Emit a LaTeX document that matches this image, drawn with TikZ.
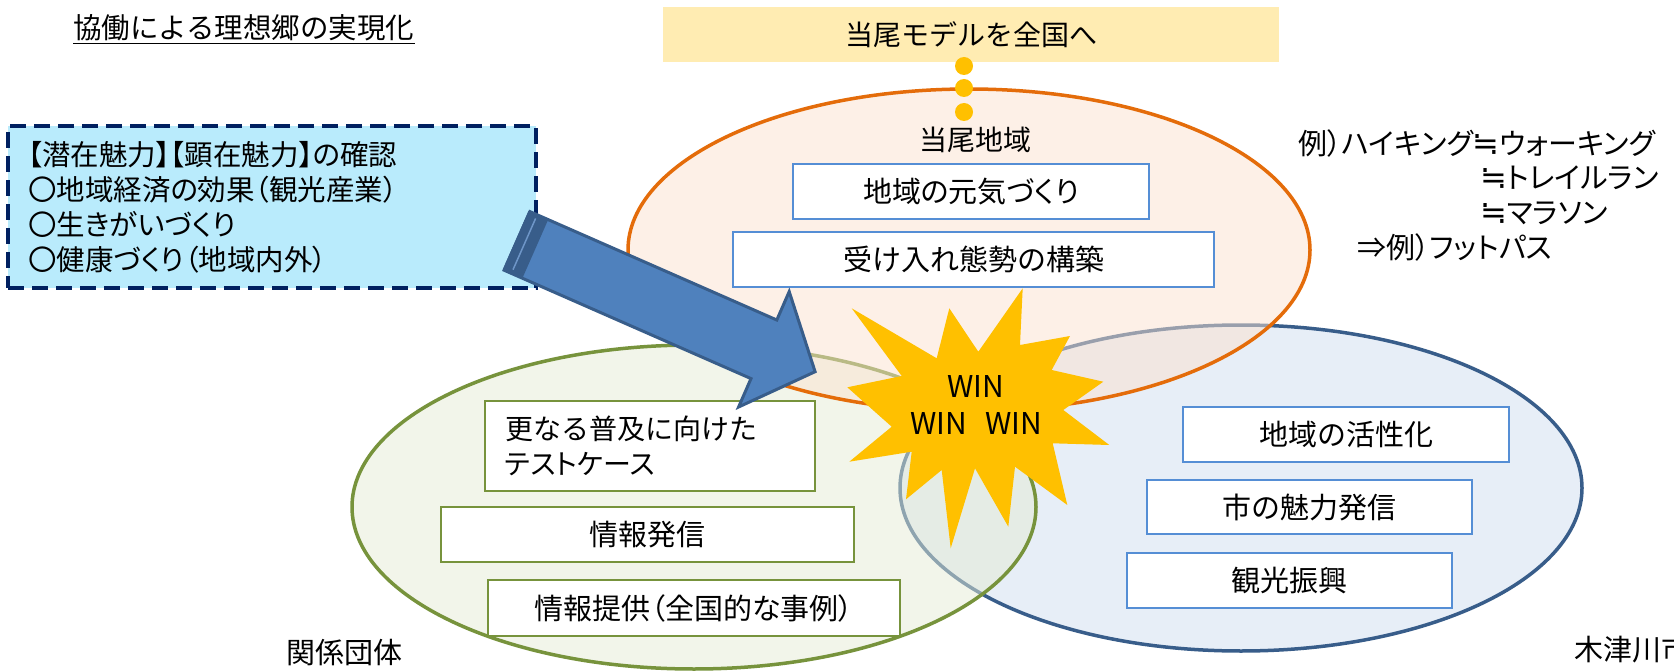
\documentclass[tikz,border=0pt]{standalone}
\usepackage{fontspec}
\setmainfont{Noto Sans CJK JP}
\newfontfamily\pfnt[RawFeature=+palt]{Noto Sans CJK JP}
\newfontfamily\symfnt{DejaVu Sans}
\newcommand{\apxsym}{{\symfnt\fontsize{32}{32}\selectfont ≒}}
\newcommand{\fs}[1]{\fontsize{#1}{#1}\selectfont}
\definecolor{orgline}{RGB}{228,108,10}
\definecolor{orgfill}{RGB}{251,225,207}
\definecolor{grnline}{RGB}{119,147,60}
\definecolor{grnfill}{RGB}{229,235,213}
\definecolor{bluline}{RGB}{56,93,138}
\definecolor{blufill}{RGB}{207,221,239}
\definecolor{boxblue}{RGB}{85,142,213}
\definecolor{topfill}{RGB}{255,236,178}
\definecolor{dashfill}{RGB}{185,235,252}
\definecolor{navyline}{RGB}{0,32,96}
\definecolor{gold}{RGB}{255,192,0}
\definecolor{arrfill}{RGB}{79,129,189}
\definecolor{arrline}{RGB}{56,93,138}
\definecolor{arrlight}{RGB}{110,150,200}
\begin{document}
\begin{tikzpicture}[x=1pt,y=-1pt,
  every node/.style={inner sep=0pt, font=\fs{28}},
  venn/.style={line width=3.5pt, fill opacity=0.5},
  bbox/.style={draw=boxblue, line width=2pt, fill=white, minimum height=55pt, font=\fs{29}},
  gbox/.style={draw=grnline, line width=2pt, fill=white, minimum height=55pt, font=\fs{29}},
  lbl/.style={font=\fs{29}},
  rtext/.style={anchor=west, font=\pfnt\fs{29}},
  dashbox/.style={draw=navyline, line width=4pt, dash pattern=on 16pt off 8pt, fill=dashfill},
]
\useasboundingbox (0,0) rectangle (1674,671);
\clip (0,0) rectangle (1674,671);

% Venn ellipses
\draw[venn, draw=bluline, fill=blufill] (1241,488) ellipse [x radius=341, y radius=163];
\draw[venn, draw=grnline, fill=grnfill] (694,507) ellipse [x radius=342, y radius=162];
\draw[venn, draw=orgline, fill=orgfill] (969,250) ellipse [x radius=341, y radius=161];

% top box and dots
\node[fill=topfill, minimum width=616pt, minimum height=55pt] (top) at (971,34.5) {当尾モデルを全国へ};
\fill[gold] (964,66) circle [radius=9];
\fill[gold] (964,88) circle [radius=9];
\fill[gold] (964,112) circle [radius=9];

% 当尾地域
\node[font=\fs{28}] (toono) at (975,140) {当尾地域};
\node[bbox, minimum width=356pt, font=\pfnt\fs{29}] (b1) at (971,191.5) {地域の元気づくり};
\node[bbox, minimum width=481pt] (b2) at (973.5,259.5) {受け入れ態勢の構築};

% 関係団体
\node[gbox, minimum height=90pt, text width=290pt, align=left, inner xsep=20pt,
      font=\fontsize{28}{35}\selectfont] (g1) at (650,446) {更なる普及に向けた\\{\pfnt テストケース}};
\node[gbox, minimum width=413pt] (g2) at (647.5,534.5) {情報発信};
\node[gbox, minimum width=412pt, minimum height=56pt, font=\pfnt\fs{29}] (g3) at (694,608) {情報提供（全国的な事例）};
\node[lbl] (kankei) at (344,653) {関係団体};

% 木津川市
\node[bbox, minimum width=326pt] (l1) at (1346,434.5) {地域の活性化};
\node[bbox, minimum width=325pt, minimum height=54pt] (l2) at (1309.5,507) {市の魅力発信};
\node[bbox, minimum width=325pt] (l3) at (1289.5,580.5) {観光振興};
\node[lbl, anchor=west] (kizu) at (1574,650) {木津川市};

% star
\fill[gold] (851.7,308.3) -- (936.7,358.3) -- (949.3,308.3) -- (978.3,351.7)
  -- (1022.7,288.3) -- (1020,345) -- (1070,336) -- (1051.7,370)
  -- (1103.3,381.7) -- (1063.3,410) -- (1109.3,445) -- (1052.7,443.3)
  -- (1067.3,505) -- (1015,466.7) -- (1008.3,526.7) -- (975,468.3)
  -- (950.7,548.3) -- (941.7,470) -- (906,499.3) -- (911.7,451.7)
  -- (849.3,461.7) -- (891.7,426.7) -- (847.3,387.3) -- (901.7,376) -- cycle;
\node[align=center, font=\fontsize{30}{37}\selectfont] (win) at (976,405) {WIN\\WIN\hspace{18pt}WIN};

% dashed box
\node[dashbox, minimum width=528pt, minimum height=162pt, text width=488pt, align=left,
      inner xsep=20pt, font=\pfnt\fontsize{28.5}{35}\selectfont] (pot) at (272,207)
  {【潜在魅力】【顕在魅力】の確認\\〇地域経済の効果（観光産業）\\〇生きがいづくり\\〇健康づくり（地域内外）};

% big arrow
\coordinate (a1) at (529.9,211.6);
\coordinate (a2) at (776.8,320.0);
\coordinate (a3) at (789.2,291.6);
\coordinate (tip) at (815.1,371.7);
\coordinate (a5) at (738.6,407.0);
\coordinate (a6) at (751.0,378.6);
\coordinate (a7) at (504.1,270.2);
\draw[fill=arrfill, draw=arrline, line width=3pt, line join=miter]
  (a1) -- (a2) -- (a3) -- (tip) -- (a5) -- (a6) -- (a7) -- cycle;
\fill[arrline] (a1) -- (548.2,219.6) -- (522.4,278.2) -- (a7) -- cycle;
\draw[arrlight, line width=1.5pt] (535.6,218.5) -- (513.0,269.7);
\draw[arrline, line width=3pt, line join=miter] (a1) -- (a7);

% title
\node[anchor=west, font=\fs{28.5}] (title) at (73,28) {協働による理想郷の実現化};
\draw[line width=1.5pt] ([yshift=-2pt]title.south west) -- ([yshift=-2pt]title.south east);

% example text
\node[rtext] (ex1) at (1298,143) {例）ハイキング\apxsym ウォーキング};
\node[rtext] (ex2) at (1480,178) {\apxsym トレイルラン};
\node[rtext] (ex3) at (1480,213) {\apxsym マラソン};
\node[rtext] (ex4) at (1357,247) {⇒例）フットパス};
\end{tikzpicture}
\end{document}
